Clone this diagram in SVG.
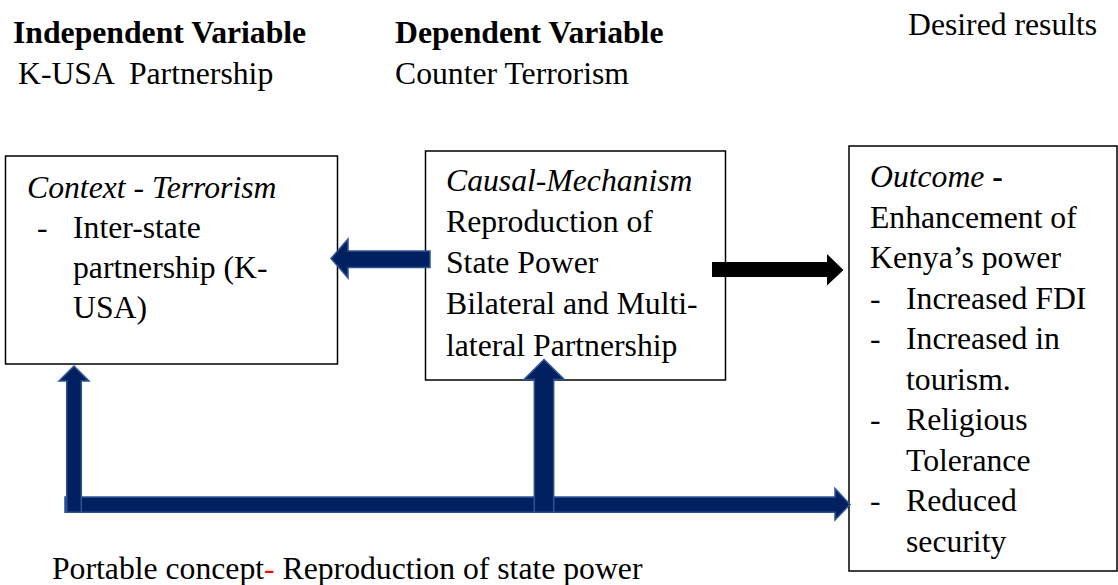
<svg xmlns="http://www.w3.org/2000/svg" width="1118" height="585" viewBox="0 0 1118 585">
<style>
text{font-size:31.7px;fill:#000;white-space:pre}
.b{font-weight:bold}
.i{font-style:italic}
.box{fill:#fff;stroke:#000;stroke-width:1.5}
.blue{fill:#002060;stroke:#2F5496;stroke-width:1.5;stroke-linejoin:miter}
.blk{fill:#000}
.red{fill:#ff0000}
</style>
<rect width="1118" height="585" fill="#fff"/>
<g font-family="Liberation Serif, Times New Roman, serif">
<g id="headers">
<text class="b" x="13" y="43">Independent Variable</text>
<text x="18" y="84" xml:space="preserve">K-USA  Partnership</text>
<text class="b" x="395" y="43">Dependent Variable</text>
<text x="395" y="84">Counter Terrorism</text>
<text x="908" y="35">Desired results</text>
</g>
<g id="context">
<rect class="box" x="5.5" y="156" width="332" height="208"/>
<text class="i" x="27" y="198">Context - Terrorism</text>
<text x="37" y="238">-</text>
<text x="73" y="238">Inter-state</text>
<text x="73" y="278">partnership (K-</text>
<text x="73" y="318">USA)</text>
</g>
<g id="mechanism">
<rect class="box" x="425.5" y="151" width="300" height="229"/>
<text class="i" x="446" y="191">Causal-Mechanism</text>
<text x="446" y="232">Reproduction of</text>
<text x="446" y="273">State Power</text>
<text x="446" y="314">Bilateral and Multi-</text>
<text x="446" y="356">lateral Partnership</text>
</g>
<g id="outcome">
<rect class="box" x="849" y="146" width="268" height="425"/>
<text x="870" y="187"><tspan class="i">Outcome</tspan> <tspan class="b">-</tspan></text>
<text x="870" y="227.5">Enhancement of</text>
<text x="870" y="268">Kenya’s power</text>
<text x="870" y="308.5">-</text>
<text x="906" y="308.5">Increased FDI</text>
<text x="870" y="349">-</text>
<text x="906" y="349">Increased in</text>
<text x="906" y="389.5">tourism.</text>
<text x="870" y="430">-</text>
<text x="906" y="430">Religious</text>
<text x="906" y="470.5">Tolerance</text>
<text x="870" y="511">-</text>
<text x="906" y="511">Reduced</text>
<text x="906" y="551.5">security</text>
</g>
<g id="connectors">
<polygon class="blue" points="430,251 348,251 348,239 331,258.5 348,278 348,267.5 430,267.5"/>
<polygon class="blk" points="712,262 827,262 827,254 843.5,270 827,285.5 827,277 712,277"/>
<polygon class="blue" points="65,497 835,497 835,488.5 850,504.5 835,520 835,512.3 65,512.3"/>
<polygon class="blue" points="66.7,512.3 66.7,381 59,381 74,366 89,381 81.3,381 81.3,512.3"/>
<polygon class="blue" points="534.3,512.3 534.3,379.5 524,379.5 544,359.5 564.3,379.5 553.7,379.5 553.7,512.3"/>
</g>
<g id="footer">
<text x="52" y="579">Portable concept<tspan class="red">-</tspan> Reproduction of state power</text>
</g>
</g>
</svg>
